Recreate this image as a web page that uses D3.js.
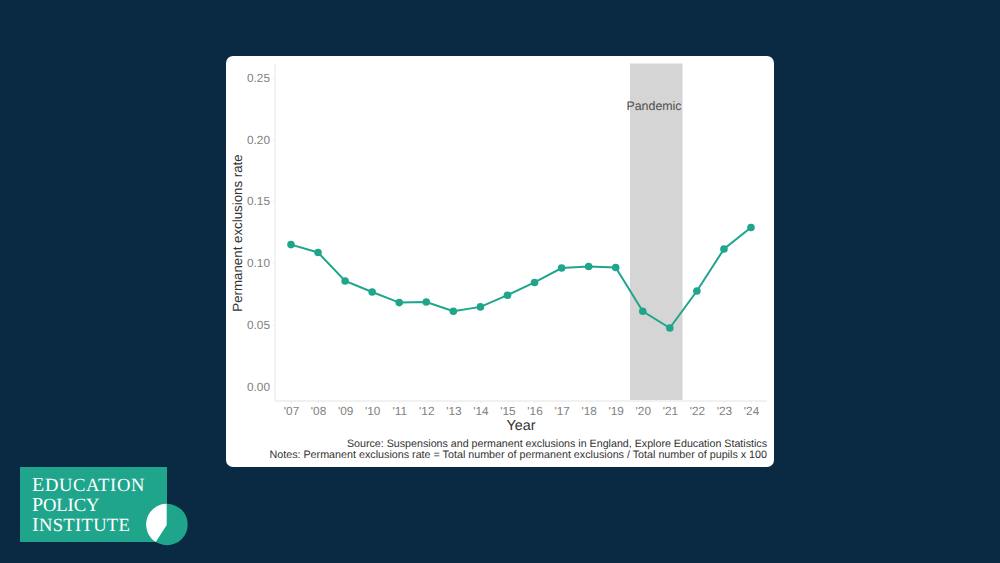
<!DOCTYPE html>
<html>
<head>
<meta charset="utf-8">
<script src="https://cdn.jsdelivr.net/npm/d3@7"></script>
<style>
  html, body { margin: 0; padding: 0; background: #0a2a43; }
  svg { display: block; }
  text { font-family: "Liberation Sans", Arial, sans-serif; text-rendering: geometricPrecision; }
</style>
</head>
<body>
<div id="chart"></div>
<script>
const years = [2007, 2008, 2009, 2010, 2011, 2012, 2013, 2014, 2015, 2016, 2017, 2018, 2019, 2020, 2021, 2022, 2023, 2024];
const rates = [0.115, 0.1086, 0.0855, 0.0766, 0.068, 0.0685, 0.061, 0.0645, 0.074, 0.0843, 0.096, 0.0972, 0.0964, 0.061, 0.0474, 0.0774, 0.1114, 0.1288];
const yTicks = [0, 0.05, 0.1, 0.15, 0.2, 0.25];
const pandemic = [2019.53, 2021.47];
const logoLines = ["Education", "Policy", "Institute"];

const width = 1000, height = 563;
const teal = "#1fa58c", navy = "#0a2a43";

const svg = d3.select("#chart").append("svg")
  .attr("width", width)
  .attr("height", height)
  .attr("role", "img")
  .attr("aria-label", "Permanent exclusions rate by year");

svg.append("rect").attr("width", width).attr("height", height).attr("fill", navy);

// White card
svg.append("rect")
  .attr("x", 226).attr("y", 56)
  .attr("width", 548).attr("height", 411)
  .attr("rx", 7)
  .attr("fill", "#fff");

const x = d3.scaleLinear().domain([2007, 2024]).range([291, 751]);
const y = d3.scaleLinear().domain([0, 0.25]).range([386.5, 78]);
const plotLeft = 275, plotRight = 767, plotTop = 63.5, plotBottom = 401;

// Pandemic band
svg.append("rect")
  .attr("x", x(pandemic[0]))
  .attr("y", plotTop)
  .attr("width", x(pandemic[1]) - x(pandemic[0]))
  .attr("height", plotBottom - plotTop - 1)
  .attr("fill", "#d5d5d5");

svg.append("text")
  .attr("x", 654)
  .attr("y", 110)
  .attr("text-anchor", "middle")
  .attr("font-size", 12.4)
  .attr("fill", "#4d4d4d")
  .text("Pandemic");

// Axes
const xAxis = d3.axisBottom(x)
  .tickValues(years)
  .tickFormat(d => "'" + String(d).slice(2))
  .tickSize(2)
  .tickPadding(4);

const yAxis = d3.axisLeft(y)
  .tickValues(yTicks)
  .tickFormat(d3.format(".2f"))
  .tickSize(2)
  .tickPadding(3);

const gx = svg.append("g").attr("transform", `translate(0,${plotBottom})`).call(xAxis);
const gy = svg.append("g").attr("transform", `translate(${plotLeft},0)`).call(yAxis);

[gx, gy].forEach(g => {
  g.select(".domain").remove();
  g.selectAll(".tick line").attr("stroke", "#ececec");
  g.selectAll(".tick text").attr("fill", "#7f7f7f").attr("font-size", 11.8);
});
gy.selectAll(".tick text").attr("dy", "0.3em");

svg.append("line")
  .attr("x1", plotLeft).attr("x2", plotRight)
  .attr("y1", plotBottom).attr("y2", plotBottom)
  .attr("stroke", "#ececec").attr("stroke-width", 1.3);
svg.append("line")
  .attr("x1", plotLeft).attr("x2", plotLeft)
  .attr("y1", plotTop).attr("y2", plotBottom)
  .attr("stroke", "#ececec").attr("stroke-width", 1.3);

// Line and points
const line = d3.line()
  .x((d, i) => x(years[i]))
  .y(d => y(d));

svg.append("path")
  .datum(rates)
  .attr("d", line)
  .attr("fill", "none")
  .attr("stroke", teal)
  .attr("stroke-width", 2);

svg.selectAll(".point")
  .data(rates)
  .enter()
  .append("circle")
  .attr("class", "point")
  .attr("cx", (d, i) => x(years[i]))
  .attr("cy", d => y(d))
  .attr("r", 3.8)
  .attr("fill", teal);

// Axis titles
svg.append("text")
  .attr("x", 521).attr("y", 430)
  .attr("text-anchor", "middle")
  .attr("font-size", 14.4)
  .attr("fill", "#333")
  .text("Year");

svg.append("text")
  .attr("transform", "translate(242,233) rotate(-90)")
  .attr("text-anchor", "middle")
  .attr("font-size", 13.3)
  .attr("fill", "#333")
  .text("Permanent exclusions rate");

// Caption
svg.append("text")
  .attr("x", 767).attr("y", 446.5)
  .attr("text-anchor", "end")
  .attr("font-size", 10.68)
  .attr("fill", "#333")
  .text("Source: Suspensions and permanent exclusions in England, Explore Education Statistics");

svg.append("text")
  .attr("x", 767).attr("y", 458)
  .attr("text-anchor", "end")
  .attr("font-size", 10.74)
  .attr("fill", "#333")
  .text("Notes: Permanent exclusions rate = Total number of permanent exclusions / Total number of pupils x 100");

// Logo
const logo = svg.append("g");
logo.append("rect")
  .attr("x", 20).attr("y", 467)
  .attr("width", 147).attr("height", 75)
  .attr("fill", teal);
logo.append("circle")
  .attr("cx", 167).attr("cy", 524.5).attr("r", 20.7)
  .attr("fill", teal);
logo.append("path")
  .attr("d", "M166.7,503.8 L166.7,525 L155.8,542 A20.7,20.7 0 0 1 166.7,503.8 Z")
  .attr("fill", "#fff");

const logoText = logo.selectAll(".logo-line")
  .data(logoLines)
  .enter()
  .append("text")
  .attr("class", "logo-line")
  .attr("x", 32)
  .attr("y", (d, i) => 490.5 + i * 20.2)
  .attr("fill", "#fff")
  .style("font-family", '"Liberation Serif", serif')
  .style("font-size", "18.6px")
  .style("letter-spacing", (d, i) => i === 0 ? "0.65px" : i === 1 ? "-0.1px" : "0.3px");

logoText.append("tspan").style("font-size", "20px").text(d => d[0]);
logoText.append("tspan").text(d => d.slice(1).toUpperCase());
</script>
</body>
</html>
